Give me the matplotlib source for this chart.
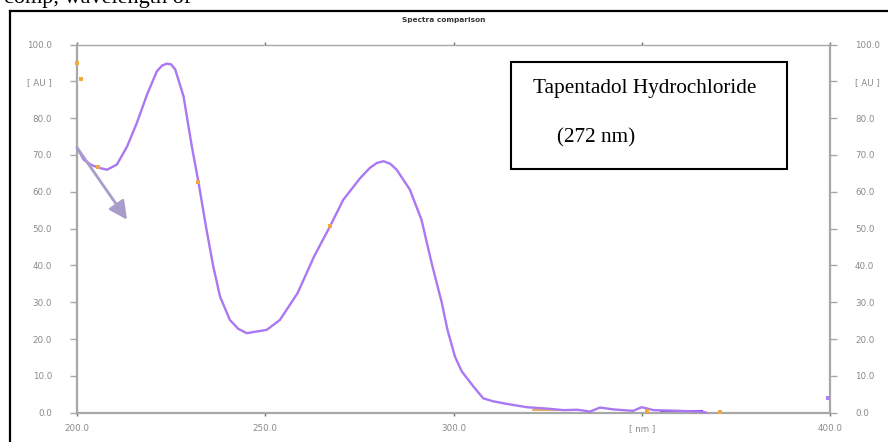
import matplotlib
matplotlib.use("Agg")
import matplotlib.pyplot as plt
from matplotlib.lines import Line2D
from matplotlib.patches import Rectangle

# ---- data ----
wavelength = [200, 201.8, 203.8, 205.8, 208.0, 210.6, 213.3, 215.9, 218.6, 221.2,
              222.6, 223.9, 225.0, 226.1, 228.3, 230.5, 232.3, 234.4, 236.2, 238.0,
              240.6, 242.8, 245.1, 250.4, 253.9, 258.6, 263.0, 267.2, 270.7, 275.2,
              277.8, 279.6, 281.4, 283.2, 284.9, 288.4, 291.5, 294.2, 296.9, 298.4,
              300.4, 302.2, 305.3, 307.9, 310.5, 314.1, 319.4, 325.0, 329.2, 333.0,
              336.3, 338.9, 342.4, 347.7, 350.0, 353.1, 360.2, 365.5, 367.2]
absorbance = [72.0, 68.7, 67.3, 66.5, 66.0, 67.4, 72.3, 78.7, 86.4, 92.7,
              94.3, 94.8, 94.6, 93.2, 85.9, 72.3, 62.4, 49.7, 39.7, 31.5,
              25.2, 22.8, 21.6, 22.5, 25.2, 32.5, 42.5, 50.6, 57.8, 63.7,
              66.5, 67.8, 68.3, 67.6, 66.0, 60.6, 52.4, 40.6, 29.8, 22.5,
              15.2, 11.2, 7.1, 3.9, 3.1, 2.4, 1.5, 1.1, 0.7, 0.8,
              0.3, 1.4, 0.9, 0.5, 1.5, 0.7, 0.5, 0.3, 0.0]

# faint secondary traces (orange marks) visible on the reference
mark_x = [205.5, 232.2, 267.2, 200.0, 201.0, 351.4, 370.8]
mark_y = [66.8, 62.6, 50.8, 95.0, 90.7, 0.4, 0.3]
orange_x = [321.0, 329.0]
orange_y = [0.6, 0.6]
dark_x = [355.0, 366.0]
dark_y = [0.4, 0.4]

x_ticks = [200, 250, 300, 350, 400]
x_labels = ["200.0", "250.0", "300.0", "[ nm ]", "400.0"]
y_ticks = [0, 10, 20, 30, 40, 50, 60, 70, 80, 90, 100]
y_labels = ["0.0", "10.0", "20.0", "30.0", "40.0", "50.0", "60.0", "70.0",
            "80.0", "[ AU ]", "100.0"]

title = "Spectra comparison"
box_line1 = "Tapentadol Hydrochloride"
box_line2 = "(272 nm)"
page_text = "comp, wavelength of"
arrow_start = (200.0, 72.0)
arrow_end = (213.3, 52.4)

W, H = 888, 442
fig = plt.figure(figsize=(W / 100, H / 100), dpi=100)
fig.patch.set_facecolor("white")

def fx(px):
    return px / W

def fy(py):
    return 1 - py / H

ax = fig.add_axes([fx(77), fy(412.7), fx(830) - fx(77), fy(44.5) - fy(412.7)])
ax.set_xlim(200, 400)
ax.set_ylim(0, 100)

grey = "#a8a8a8"
for s in ["left", "bottom", "right", "top"]:
    ax.spines[s].set_color(grey)
    ax.spines[s].set_linewidth(1.6)
ax.spines["top"].set_linewidth(1.0)

tick_font = dict(family="DejaVu Sans", size=6.3)
ax.set_xticks(x_ticks)
ax.set_xticklabels(x_labels, color="#8a8a8a", fontdict=tick_font)
ax.set_yticks(y_ticks)
ax.set_yticklabels(y_labels, color="#8a8a8a", fontdict=tick_font)
ax.tick_params(axis="y", which="both", left=True, right=True,
               labelleft=True, labelright=True, direction="out",
               length=5, width=1.0, color=grey, pad=13)
ax.tick_params(axis="x", which="both", bottom=True, top=True,
               direction="out", length=2, width=1.0, color="#707070", pad=6)
for lab in ax.get_yticklabels(which="both"):
    lab.set_fontsize(6.3)
    lab.set_color("#8a8a8a")

# main spectrum
ax.plot(wavelength, absorbance, color="#aa78f2", lw=1.7, solid_capstyle="round",
        solid_joinstyle="round", zorder=3, clip_on=False)
ax.plot(orange_x, orange_y, color="#e0a040", lw=1.2, zorder=2, clip_on=False)
ax.plot(dark_x, dark_y, color="#7a2ec8", lw=1.4, zorder=2, clip_on=False)
ax.scatter(mark_x, mark_y, s=6, marker="s", color="#f0a840", zorder=4,
           linewidths=0, clip_on=False)
ax.scatter([399.5], [4.0], s=5, marker="s", color="#b080f0", zorder=4,
           linewidths=0, clip_on=False)

# arrow
ax.annotate("", xy=arrow_end, xytext=arrow_start,
            arrowprops=dict(arrowstyle="-|>,head_length=1.1,head_width=0.55",
                            color="#a99bca", lw=2.0, shrinkA=0, shrinkB=0),
            annotation_clip=False, zorder=5)

# title
fig.text(fx(444), fy(20), title, ha="center", va="center",
         fontsize=5.3, color="#333333", family="DejaVu Sans", fontweight="bold")

# cut-off line of page text above the figure (as in the reference)
fig.text(fx(4), fy(3), page_text, ha="left", va="baseline",
         fontsize=16, family="Liberation Serif", color="black")

# text box
fig.add_artist(Rectangle((fx(511), fy(169)), fx(787) - fx(511), fy(62) - fy(169),
                         transform=fig.transFigure, fill=False,
                         edgecolor="black", lw=1.5))
fig.text(fx(533), fy(92.5), box_line1, ha="left", va="baseline",
         fontsize=15.3, family="Liberation Serif", color="black")
fig.text(fx(557), fy(142.5), box_line2, ha="left", va="baseline",
         fontsize=15.3, family="Liberation Serif", color="black")

# outer black frame (cut at right and bottom)
fig.add_artist(Line2D([fx(10), fx(10)], [fy(11), fy(445)],
                      transform=fig.transFigure, color="black", lw=1.6))
fig.add_artist(Line2D([fx(10), fx(890)], [fy(11), fy(11)],
                      transform=fig.transFigure, color="black", lw=1.6))

fig.savefig("out.png", dpi=100, facecolor="white")
